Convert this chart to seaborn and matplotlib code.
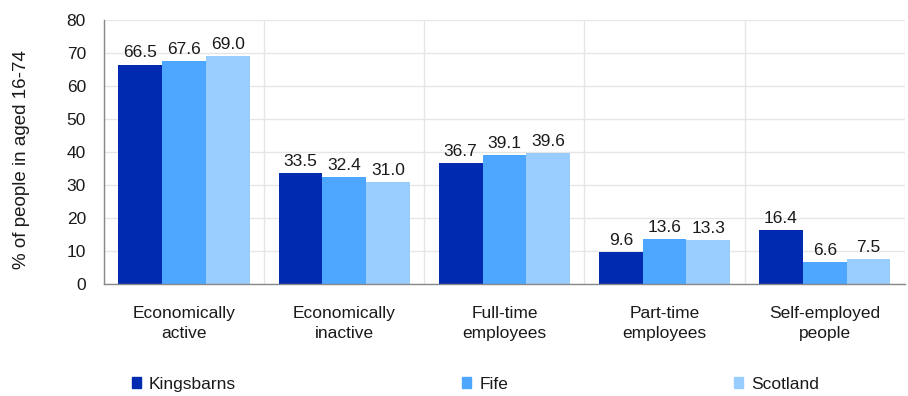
import matplotlib
matplotlib.use("Agg")
import matplotlib.pyplot as plt
import seaborn as sns
import pandas as pd

categories = ["Economically\nactive", "Economically\ninactive", "Full-time\nemployees",
              "Part-time\nemployees", "Self-employed\npeople"]
areas = ["Kingsbarns", "Fife", "Scotland"]
kingsbarns = [66.5, 33.5, 36.7, 9.6, 16.4]
fife = [67.6, 32.4, 39.1, 13.6, 6.6]
scotland = [69.0, 31.0, 39.6, 13.3, 7.5]
colors = ["#002BB0", "#4DA6FF", "#99CCFF"]

rows = []
for area, vals in zip(areas, [kingsbarns, fife, scotland]):
    for cat, v in zip(categories, vals):
        rows.append({"category": cat, "area": area, "value": v})
df = pd.DataFrame(rows)

sns.set_theme(style="white")
plt.rcParams["font.family"] = ["Liberation Sans", "DejaVu Sans"]
FS = 12.5
TXT = "#1a1a1a"

fig = plt.figure(figsize=(9.08, 3.96), dpi=100)
ax = fig.add_axes([0.1145, 0.2828, 0.882, 0.6667])

sns.barplot(data=df, x="category", y="value", hue="area", order=categories,
            hue_order=areas, palette=colors, width=0.82, gap=0, saturation=1,
            ax=ax, legend=False, edgecolor="none")

for cont in ax.containers:
    ax.bar_label(cont, fmt="%.1f", padding=3, fontsize=FS, color=TXT)

ax.set_ylim(0, 80)
ax.set_yticks(range(0, 81, 10))
ax.set_xlim(-0.5, len(categories) - 0.5)
ax.set_xticks([i - 0.5 for i in range(len(categories) + 1)], minor=True)
ax.set_xticks(range(len(categories)))
ax.set_xticklabels(categories, fontsize=FS, color=TXT, linespacing=1.4)
ax.tick_params(axis="x", which="major", length=0, pad=16)
ax.tick_params(axis="x", which="minor", length=6, color="#888888", direction="out")
ax.tick_params(axis="y", length=6, color="#888888", direction="out", labelsize=FS,
               labelcolor=TXT, pad=7)
ax.grid(axis="y", color="#E6E6E6", linewidth=1)
ax.grid(axis="x", which="minor", color="#E6E6E6", linewidth=1)
ax.set_axisbelow(True)
for s in ["top", "right"]:
    ax.spines[s].set_visible(False)
for s in ["left", "bottom"]:
    ax.spines[s].set_color("#888888")
    ax.spines[s].set_linewidth(1)
ax.set_xlabel("")
ax.set_ylabel("% of people in aged 16-74", fontsize=13.5, color=TXT)
ax.yaxis.set_label_coords(-0.092, 0.47)

handles = [plt.Rectangle((0, 0), 1, 1, color=c) for c in colors]
fig.legend(handles, areas, loc="center left", bbox_to_anchor=(0.145, 0.0303), ncol=3,
           frameon=False, fontsize=FS, handlelength=0.55, handleheight=0.55,
           handletextpad=0.45, columnspacing=13.0, borderaxespad=0, borderpad=0,
           labelcolor=TXT)

fig.savefig("out.png", dpi=100)
